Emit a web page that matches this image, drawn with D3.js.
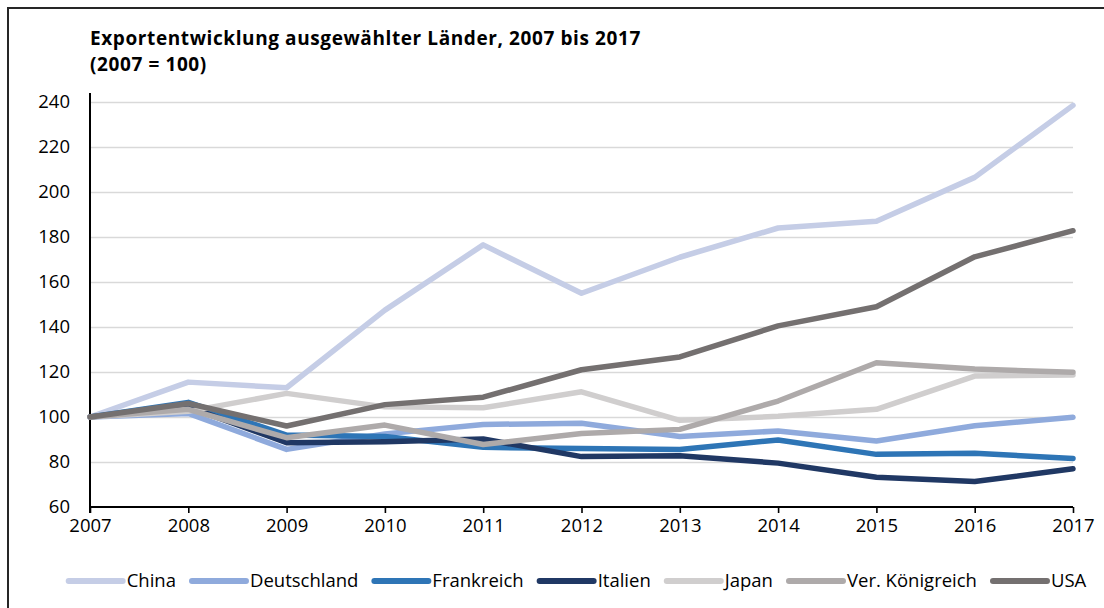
<!DOCTYPE html>
<html>
<head>
<meta charset="utf-8">
<script src="https://cdn.jsdelivr.net/npm/d3@7"></script>
<style>
  html, body { margin: 0; padding: 0; background: #fff; }
  svg { display: block; font-family: "Open Sans", "Noto Sans", sans-serif; }
</style>
</head>
<body>
<svg id="chart" width="1104" height="608"></svg>
<script>
const years = [2007, 2008, 2009, 2010, 2011, 2012, 2013, 2014, 2015, 2016, 2017];
const yTicks = [60, 80, 100, 120, 140, 160, 180, 200, 220, 240];
const titleLines = ["Exportentwicklung ausgewählter Länder, 2007 bis 2017", "(2007 = 100)"];

const china       = [100, 115.5, 113, 147.5, 176.5, 155, 171, 184, 187, 206.5, 238.5];
const deutschland = [100, 101.6, 85.6, 92.5, 96.7, 97.2, 91.3, 93.8, 89.3, 96.1, 99.9];
const frankreich  = [100, 106.5, 92, 91.3, 86.5, 86, 85.6, 89.8, 83.4, 83.9, 81.6];
const italien     = [100, 104.5, 88.6, 89, 90.2, 82.4, 82.8, 79.5, 73.2, 71.3, 77];
const japan       = [100, 102.5, 110.5, 104.5, 104.1, 111.2, 98.5, 100.3, 103.4, 118.2, 118.7];
const vk          = [100, 103.4, 90.8, 96.4, 87.8, 92.7, 94.5, 107.1, 124.1, 121.3, 119.9];
const usa         = [100, 106, 96, 105.5, 108.8, 121, 126.7, 140.5, 149, 171.2, 182.8];

const seriesNames  = ["China", "Deutschland", "Frankreich", "Italien", "Japan", "Ver. Königreich", "USA"];
const seriesValues = [china, deutschland, frankreich, italien, japan, vk, usa];
const seriesColors = ["#c5cde6", "#8faadc", "#2e75b6", "#203864", "#d0cece", "#aeaaaa", "#747070"];

const svg = d3.select("#chart");

// outer frame
svg.append("rect")
  .attr("x", 8).attr("y", 8).attr("width", 1200).attr("height", 700)
  .attr("fill", "none").attr("stroke", "#262626").attr("stroke-width", 2);

const x = d3.scaleLinear().domain([2007, 2017]).range([90, 1073]);
const y = d3.scaleLinear().domain([60, 240]).range([507, 102]);

// title
svg.append("g").selectAll("text").data(titleLines).join("text")
  .attr("x", 90).attr("y", (d, i) => 45 + i * 26)
  .attr("font-size", 19).attr("font-weight", 700).attr("letter-spacing", 0.6).attr("fill", "#000")
  .text(d => d);

// gridlines
svg.append("g")
  .attr("transform", "translate(90,0)")
  .call(d3.axisRight(y).tickValues(yTicks.filter(v => v > 60)).tickSize(983).tickFormat(""))
  .call(g => g.select(".domain").remove())
  .call(g => g.selectAll(".tick line").attr("stroke", "#d9d9d9").attr("stroke-width", 1.5));

// y tick labels
svg.append("g")
  .attr("transform", "translate(90,0)")
  .call(d3.axisLeft(y).tickValues(yTicks).tickSize(0).tickPadding(20).tickFormat(d3.format("d")))
  .call(g => g.select(".domain").remove())
  .call(g => g.selectAll("text").attr("font-size", 18.5).attr("fill", "#000")
      .attr("font-family", "'Open Sans', sans-serif"));

// y axis line
svg.append("line").attr("x1", 90).attr("x2", 90).attr("y1", 93).attr("y2", 513)
  .attr("stroke", "#000").attr("stroke-width", 2);

// x axis
svg.append("g")
  .attr("transform", "translate(0,507)")
  .call(d3.axisBottom(x).tickValues(years).tickSize(6).tickPadding(6).tickFormat(d3.format("d")))
  .call(g => g.select(".domain").attr("stroke", "#000").attr("stroke-width", 2).attr("d", "M90,0H1073"))
  .call(g => g.selectAll(".tick line").attr("stroke", "#000").attr("stroke-width", 1.6))
  .call(g => g.selectAll("text").attr("font-size", 18.5).attr("fill", "#000")
      .attr("font-family", "'Open Sans', sans-serif"));

// lines
const line = d3.line().x((d, i) => x(years[i])).y(d => y(d));
svg.append("g").selectAll("path").data(seriesValues).join("path")
  .attr("d", d => line(d))
  .attr("fill", "none")
  .attr("stroke", (d, i) => seriesColors[i])
  .attr("stroke-width", 5.5)
  .attr("stroke-linejoin", "round")
  .attr("stroke-linecap", "round");

// legend
const legend = svg.append("g");
const sampleW = 54, gapAfterSample = 4, gapBetween = 16, legendY = 581;
let cx = 0;
const items = [];
seriesNames.forEach((name, i) => {
  const g = legend.append("g");
  g.append("line").attr("x1", 0).attr("x2", sampleW).attr("y1", 0).attr("y2", 0)
    .attr("stroke", seriesColors[i]).attr("stroke-width", 6).attr("stroke-linecap", "round");
  const t = g.append("text").attr("x", sampleW + gapAfterSample).attr("y", 0).attr("dy", "0.35em")
    .attr("font-size", 18.5).attr("fill", "#000").text(name);
  const w = t.node().getComputedTextLength();
  items.push({g, x: cx});
  cx += sampleW + gapAfterSample + w + gapBetween;
});
const total = cx - gapBetween;
const startX = 63 + (1092 - 63 - total) / 2;
items.forEach(it => it.g.attr("transform", `translate(${startX + it.x},${legendY})`));
</script>
</body>
</html>
